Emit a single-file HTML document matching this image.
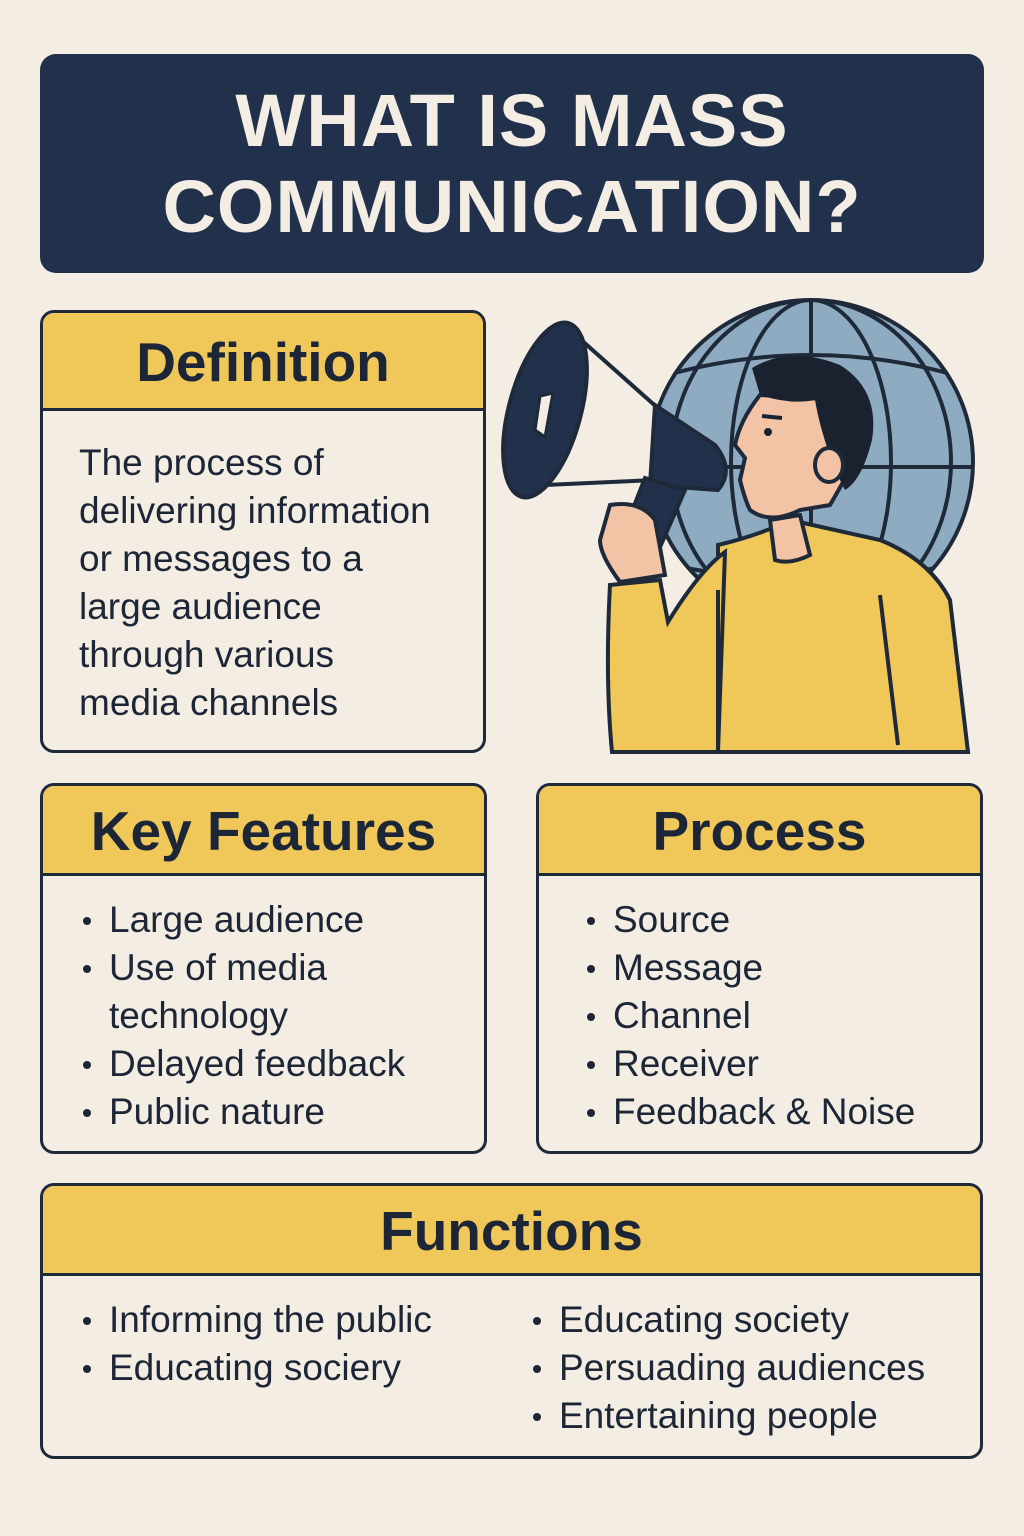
<!DOCTYPE html>
<html><head><meta charset="utf-8"><style>
html,body{margin:0;padding:0;}
body{width:1024px;height:1536px;background:#f3ede3;position:relative;overflow:hidden;font-family:"Liberation Sans",sans-serif;color:#1c2636;}
.title{position:absolute;left:40px;top:54px;width:944px;height:219px;background:#22314b;border-radius:16px;color:#f3ede3;font-weight:bold;font-size:74px;text-align:center;line-height:86px;padding-top:24px;box-sizing:border-box;letter-spacing:1px;}
.box{position:absolute;border:3px solid #1e2a3a;border-radius:14px;background:#f3ede3;box-sizing:border-box;overflow:hidden;}
.hd{background:#f0c85a;border-bottom:3px solid #1e2a3a;text-align:center;font-weight:bold;font-size:55px;box-sizing:border-box;}
.txt{position:absolute;font-size:37px;line-height:48px;white-space:nowrap;}
ul{list-style:none;margin:0;padding:0;}
li{position:relative;padding-left:30px;}
li:before{content:"";position:absolute;left:4px;top:21px;width:8px;height:8px;border-radius:50%;background:#1c2636;}
</style></head><body>
<div class="title">WHAT IS MASS<br>COMMUNICATION?</div>

<div class="box" style="left:40px;top:310px;width:446px;height:443px;">
<div class="hd" style="height:98px;line-height:98px;">Definition</div>
<div class="txt" style="left:36px;top:126px;">The process of<br>delivering information<br>or messages to a<br>large audience<br>through various<br>media channels</div>
</div>

<div class="box" style="left:40px;top:783px;width:447px;height:371px;">
<div class="hd" style="height:90px;line-height:90px;">Key Features</div>
<div class="txt" style="left:36px;top:110px;"><ul><li>Large audience</li><li>Use of media<br>technology</li><li>Delayed feedback</li><li>Public nature</li></ul></div>
</div>

<div class="box" style="left:536px;top:783px;width:447px;height:371px;">
<div class="hd" style="height:90px;line-height:90px;">Process</div>
<div class="txt" style="left:44px;top:110px;"><ul><li>Source</li><li>Message</li><li>Channel</li><li>Receiver</li><li>Feedback &amp; Noise</li></ul></div>
</div>

<div class="box" style="left:40px;top:1183px;width:943px;height:276px;">
<div class="hd" style="height:90px;line-height:90px;">Functions</div>
<div class="txt" style="left:36px;top:110px;"><ul><li>Informing the public</li><li>Educating sociery</li></ul></div>
<div class="txt" style="left:486px;top:110px;"><ul><li>Educating society</li><li>Persuading audiences</li><li>Entertaining people</li></ul></div>
</div>

<svg style="position:absolute;left:0;top:0" width="1024" height="1536">
<defs><clipPath id="g"><circle cx="811" cy="462" r="162"/></clipPath></defs>
<circle cx="811" cy="462" r="162" fill="#8fabc2" stroke="#1e2a3a" stroke-width="4"/>
<g clip-path="url(#g)" stroke="#1e2a3a" stroke-width="4" fill="none">
<line x1="811" y1="290" x2="811" y2="640"/>
<ellipse cx="811" cy="462" rx="80" ry="162"/>
<ellipse cx="811" cy="462" rx="140" ry="162"/>
<line x1="640" y1="467" x2="980" y2="467"/>
<path d="M650 380 Q811 330 972 380"/><path d="M650 560 Q811 600 972 560"/>
</g>
<path d="M718 545 Q760 535 790 520 L880 540 Q930 560 950 600 L968 752 L718 752 Z" fill="#f0c85a" stroke="#1e2a3a" stroke-width="4"/>
<path d="M610 585 L660 580 L668 622 Q700 570 725 552 L718 752 L612 752 Q605 680 610 585 Z" fill="#f0c85a" stroke="#1e2a3a" stroke-width="4"/>
<line x1="718" y1="590" x2="718" y2="752" stroke="#1e2a3a" stroke-width="4"/>
<line x1="880" y1="595" x2="898" y2="745" stroke="#1e2a3a" stroke-width="4"/>
<path d="M770 520 L775 560 Q790 565 810 555 L800 515 Z" fill="#f2c3a4" stroke="#1e2a3a" stroke-width="4"/>
<path d="M760 395 Q740 420 735 445 L745 458 L740 480 Q745 500 750 510 Q770 525 800 510 L830 505 L850 470 L840 400 Z" fill="#f2c3a4" stroke="#1e2a3a" stroke-width="4"/>
<path d="M752 368 Q790 345 840 365 Q880 390 872 440 Q862 480 845 490 L835 470 Q820 430 815 400 Q790 405 760 395 Z" fill="#1a2230"/>
<ellipse cx="829" cy="465" rx="14" ry="17" fill="#f2c3a4" stroke="#1e2a3a" stroke-width="4"/>
<circle cx="768" cy="432" r="4" fill="#1a2230"/>
<path d="M762 416 L782 418" stroke="#1a2230" stroke-width="4"/>
<path d="M570 330 L660 410 L655 480 L545 485 Z" fill="#f3ede3" stroke="#1e2a3a" stroke-width="4"/>
<path d="M655 405 L715 445 Q735 470 718 490 L650 485 Z" fill="#22314b" stroke="#1e2a3a" stroke-width="4"/>
<ellipse cx="545" cy="410" rx="36" ry="90" transform="rotate(15 545 410)" fill="#22314b" stroke="#1e2a3a" stroke-width="4"/>
<path d="M540 396 L553 393 L545 437 L535 430 Z" fill="#f3ede3" stroke="#1e2a3a" stroke-width="3"/>
<path d="M645 478 L685 490 L650 570 L612 562 Z" fill="#22314b" stroke="#1e2a3a" stroke-width="4"/>
<path d="M610 505 Q640 500 655 520 L665 575 L620 582 Q600 555 600 540 Z" fill="#f2c3a4" stroke="#1e2a3a" stroke-width="4"/>
</svg>
</body></html>
